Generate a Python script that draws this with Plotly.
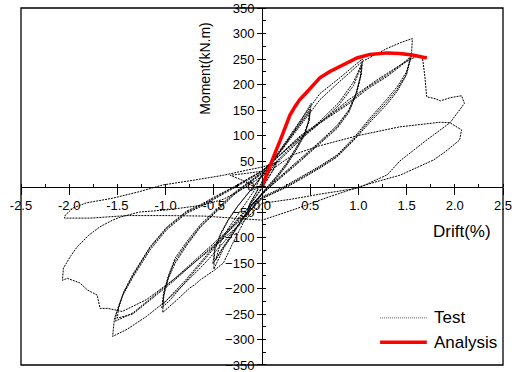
import plotly.graph_objects as go

# ---------------- data ----------------
# Test hysteresis (drift %, moment kN.m)
test_drift = [
    0, 0.05, 0.1, 0.15, 0.13, 0.08, 0.02, -0.03, -0.08, -0.13, -0.15, -0.12, -0.06, 0, 0.06, 0.12, 0.16, 0.13, 0.06, 0,
    -0.07, -0.14, -0.11, -0.04, -0.2, -0.33, -0.15, 0,
    # 0.5 % cycles
    0.1, 0.2, 0.3, 0.4, 0.51, 0.49, 0.44, 0.35, 0.25, 0.15, 0.08, 0,
    -0.1, -0.2, -0.3, -0.4, -0.51, -0.49, -0.43, -0.35, -0.25, -0.15, -0.08, 0,
    0.1, 0.2, 0.3, 0.4, 0.5, 0.49, 0.44, 0.35, 0.25, 0.15, 0.08, 0,
    -0.1, -0.2, -0.3, -0.4, -0.5, -0.49, -0.43, -0.35, -0.25, -0.15, -0.08, 0,
    0.1, 0.2, 0.3, 0.4, 0.49, 0.48, 0.44, 0.35, 0.25, 0.15, 0.08, 0,
    -0.1, -0.2, -0.3, -0.42, -0.48, -0.43, -0.35, -0.25, -0.15, -0.08, 0,
    # 1.0 % cycles
    0.2, 0.4, 0.6, 0.8, 0.95, 1.04, 1.03, 0.98, 0.9, 0.78, 0.6, 0.4, 0.2, 0.1, 0,
    -0.15, -0.3, -0.4, -0.5, -0.64, -0.7, -0.75, -0.88, -1.03, -1.02, -0.97, -0.9, -0.78, -0.64, -0.45, -0.3, -0.18, 0,
    0.2, 0.4, 0.6, 0.8, 0.95, 1.04, 1.03, 0.98, 0.9, 0.78, 0.6, 0.4, 0.2, 0.1, 0,
    -0.2, -0.4, -0.6, -0.8, -0.95, -1.04, -1.02, -0.97, -0.9, -0.78, -0.64, -0.45, -0.3, -0.18, 0,
    0.2, 0.4, 0.6, 0.8, 0.95, 1.03, 1.02, 0.97, 0.9, 0.78, 0.6, 0.4, 0.2, 0.1, 0,
    -0.2, -0.4, -0.6, -0.8, -0.95, -1.03, -1.01, -0.96, -0.9, -0.78, -0.64, -0.45, -0.3, -0.18, 0,
    # 1.5 % cycles
    0.2, 0.4, 0.6, 0.8, 1.04, 1.3, 1.45, 1.56, 1.55, 1.5, 1.4, 1.29, 1.12, 0.95, 0.78, 0.6, 0.4, 0.25, 0.1, 0,
    -0.2, -0.4, -0.6, -0.8, -1.0, -1.2, -1.4, -1.55, -1.53, -1.45, -1.34, -1.16, -0.99, -0.78, -0.64, -0.45, -0.3, -0.15, 0,
    0.2, 0.4, 0.6, 0.9, 1.1, 1.3, 1.45, 1.55, 1.54, 1.5, 1.4, 1.29, 1.12, 0.95, 0.78, 0.6, 0.4, 0.25, 0.1, 0,
    -0.2, -0.5, -0.92, -1.34, -1.52, -1.51, -1.44, -1.34, -1.16, -0.99, -0.78, -0.64, -0.45, -0.3, -0.15, 0,
    0.2, 0.4, 0.6, 0.9, 1.1, 1.3, 1.45, 1.54, 1.53, 1.49, 1.4, 1.29, 1.12, 0.95, 0.78, 0.6, 0.4, 0.25, 0.1, 0,
    -0.2, -0.5, -0.92, -1.34, -1.5, -1.49, -1.43, -1.34, -1.16, -0.99, -0.78, -0.64, -0.45, -0.3, -0.15, 0,
    # 2.0 % excursion, positive
    0.3, 0.6, 0.9, 1.2, 1.45, 1.6, 1.645, 1.666, 1.69, 1.708, 1.76, 1.8, 1.85, 1.9, 1.95, 2.07, 2.1, 2.03, 1.95,
    1.7, 1.43, 1.3, 1.0, 0.6, 0.3, 0,
    # 2.0 % excursion, negative
    -0.2, -0.5, -0.9, -1.2, -1.45, -1.6, -1.68, -1.71, -1.81, -1.89, -2.02, -2.07, -2.06, -1.98, -1.92, -1.8, -1.68,
    -1.55, -1.47, -1.27, -0.99, -0.75, -0.6, -0.4, -0.2, 0,
    # second 2.0 % cycle
    0.32, 0.6, 1.0, 1.43, 1.85, 1.95, 2.07, 2.05, 1.9, 1.78, 1.6, 1.43, 1.2, 1.02, 0.7, 0.32, 0,
    -0.3, -0.6, -1.0, -1.4, -1.78, -2.05, -2.04, -1.96, -1.82, -1.55, -1.27, -1.03, -0.72, -0.4, -0.16, 0, 0.2,
]
test_moment = [
    0, 18, 35, 48, 38, 22, 5, -8, -24, -38, -45, -32, -12, 10, 26, 40, 50, 36, 15, -4,
    -22, -40, -28, -5, 12, 22, 26, 30,
    45, 72, 100, 128, 163, 132, 105, 75, 45, 20, 5, -12,
    -35, -62, -90, -118, -152, -120, -92, -65, -38, -15, 2, 20,
    45, 72, 100, 126, 152, 128, 102, 72, 42, 18, 3, -14,
    -35, -64, -92, -122, -162, -125, -95, -66, -38, -15, 2, 22,
    46, 72, 98, 124, 146, 126, 100, 70, 40, 16, 2, -15,
    -36, -62, -92, -125, -144, -110, -82, -55, -28, -8, 24,
    # 1.0
    75, 130, 182, 212, 236, 250, 222, 185, 150, 120, 88, 55, 22, 5, -15,
    -55, -110, -150, -165, -183, -193, -199, -222, -247, -215, -180, -150, -115, -80, -45, -18, 0, 25,
    58, 95, 128, 165, 205, 243, 220, 182, 148, 117, 86, 52, 20, 3, -15,
    -55, -100, -145, -190, -222, -238, -208, -175, -145, -112, -78, -43, -16, 2, 26,
    55, 92, 124, 160, 198, 236, 215, 178, 145, 114, 84, 50, 18, 2, -16,
    -52, -96, -140, -185, -215, -232, -202, -170, -140, -108, -75, -40, -14, 3, 28,
    # 1.5
    70, 120, 170, 205, 245, 271, 283, 290, 255, 225, 195, 170, 134, 95, 62, 40, 18, 2, -12, -20,
    -65, -110, -152, -190, -225, -255, -280, -294, -258, -215, -178, -124, -85, -52, -40, -20, -5, 12, 30,
    65, 100, 126, 165, 195, 219, 240, 256, 250, 220, 190, 165, 130, 92, 60, 38, 16, 0, -14, -22,
    -60, -112, -183, -248, -264, -248, -210, -175, -120, -82, -50, -38, -18, -3, 14, 30,
    64, 98, 124, 162, 192, 216, 238, 252, 246, 216, 186, 160, 126, 90, 58, 36, 14, -2, -15, -24,
    -62, -115, -186, -250, -258, -240, -205, -172, -118, -80, -48, -36, -16, -2, 15, 30,
    # 2.0 positive
    80, 125, 170, 210, 240, 255, 254, 251, 215, 176, 174, 172, 168, 171, 174, 178, 163, 145, 125,
    90, 50, 23, -3, -15, -25, -33,
    # 2.0 negative
    -70, -118, -180, -222, -245, -239, -239, -213, -203, -189, -180, -184, -160, -135, -119, -96, -79,
    -66, -60, -50, -46, -40, -36, -25, -5, 20,
    # second 2.0
    62, 80, 100, 117, 126, 125, 111, 91, 68, 52, 36, 22, 10, 0, -20, -46, -66,
    -62, -58, -57, -57, -62, -62, -56, -42, -32, -23, -10, 3, 12, 22, 32, 38, 50,
]

# Analysis curve
ana_drift = [0, 0.04, 0.08, 0.14, 0.19, 0.24, 0.29, 0.34, 0.39, 0.45, 0.5, 0.55, 0.6, 0.7, 0.81, 0.9,
             0.985, 1.12, 1.3, 1.43, 1.56, 1.71]
ana_moment = [0, 20, 42, 68, 91, 116, 140, 156, 170, 182, 193, 204, 213, 225, 236, 245,
              252, 259, 262, 261, 258, 252]

x_ticks = [-2.5, -2.0, -1.5, -1.0, -0.5, 0.0, 0.5, 1.0, 1.5, 2.0, 2.5]
y_ticks = list(range(-350, 351, 50))

FONT = "Liberation Sans, Arial, sans-serif"

fig = go.Figure()
fig.add_trace(go.Scatter(
    x=test_drift, y=test_moment, mode="lines", name="Test",
    line=dict(color="#000000", width=1, dash="2px,1px"), showlegend=False,
))
fig.add_trace(go.Scatter(
    x=ana_drift, y=ana_moment, mode="lines", name="Analysis",
    line=dict(color="#ff0000", width=3.5), showlegend=False,
))

fig.update_layout(
    width=519, height=372,
    margin=dict(l=21, r=16, t=8, b=7, autoexpand=False),
    paper_bgcolor="white", plot_bgcolor="white",
    font=dict(family=FONT, size=13, color="black"),
    xaxis=dict(
        range=[-2.5, 2.5], tickvals=x_ticks, ticktext=[f"{v:.1f}" for v in x_ticks],
        showgrid=False, zeroline=False, showline=True, linecolor="black", linewidth=1,
        ticks="outside", ticklen=7, tickcolor="black", tickwidth=1,
        anchor="free", position=0.5, ticklabeloverflow="allow", automargin=False,
        minor=dict(dtick=0.25, ticks="inside", ticklen=3, tickcolor="black"),
        tickfont=dict(size=13),
    ),
    yaxis=dict(
        range=[-350.01, 350.01], tickvals=y_ticks,
        showgrid=False, zeroline=False, showline=True, linecolor="black", linewidth=1,
        ticks="outside", ticklen=5, tickcolor="black", tickwidth=1,
        anchor="free", position=0.5, ticklabeloverflow="allow", automargin=False,
        minor=dict(dtick=25, ticks="inside", ticklen=3, tickcolor="black"),
        tickfont=dict(size=13),
    ),
    shapes=[
        dict(type="rect", xref="paper", yref="paper", x0=0, x1=1, y0=0, y1=1,
             line=dict(color="black", width=1.3), fillcolor="rgba(0,0,0,0)"),
        dict(type="line", xref="paper", yref="paper", x0=0.745, x1=0.842, y0=0.132, y1=0.132,
             line=dict(color="#555555", width=1, dash="1px,1px")),
        dict(type="line", xref="paper", yref="paper", x0=0.745, x1=0.842, y0=0.064, y1=0.064,
             line=dict(color="#ff0000", width=3.5)),
    ],
    annotations=[
        dict(text="Moment(kN.m)", xref="paper", yref="paper", x=0.382, y=0.830,
             textangle=-90, showarrow=False, font=dict(size=14), xanchor="center", yanchor="middle"),
        dict(text="Drift(%)", xref="paper", yref="paper", x=0.915, y=0.375,
             showarrow=False, font=dict(size=17), xanchor="center", yanchor="middle"),
        dict(text="Test", xref="paper", yref="paper", x=0.853, y=0.132,
             showarrow=False, font=dict(size=17), xanchor="left", yanchor="middle"),
        dict(text="Analysis", xref="paper", yref="paper", x=0.853, y=0.064,
             showarrow=False, font=dict(size=17), xanchor="left", yanchor="middle"),
    ],
)

fig.write_html("out.html")
